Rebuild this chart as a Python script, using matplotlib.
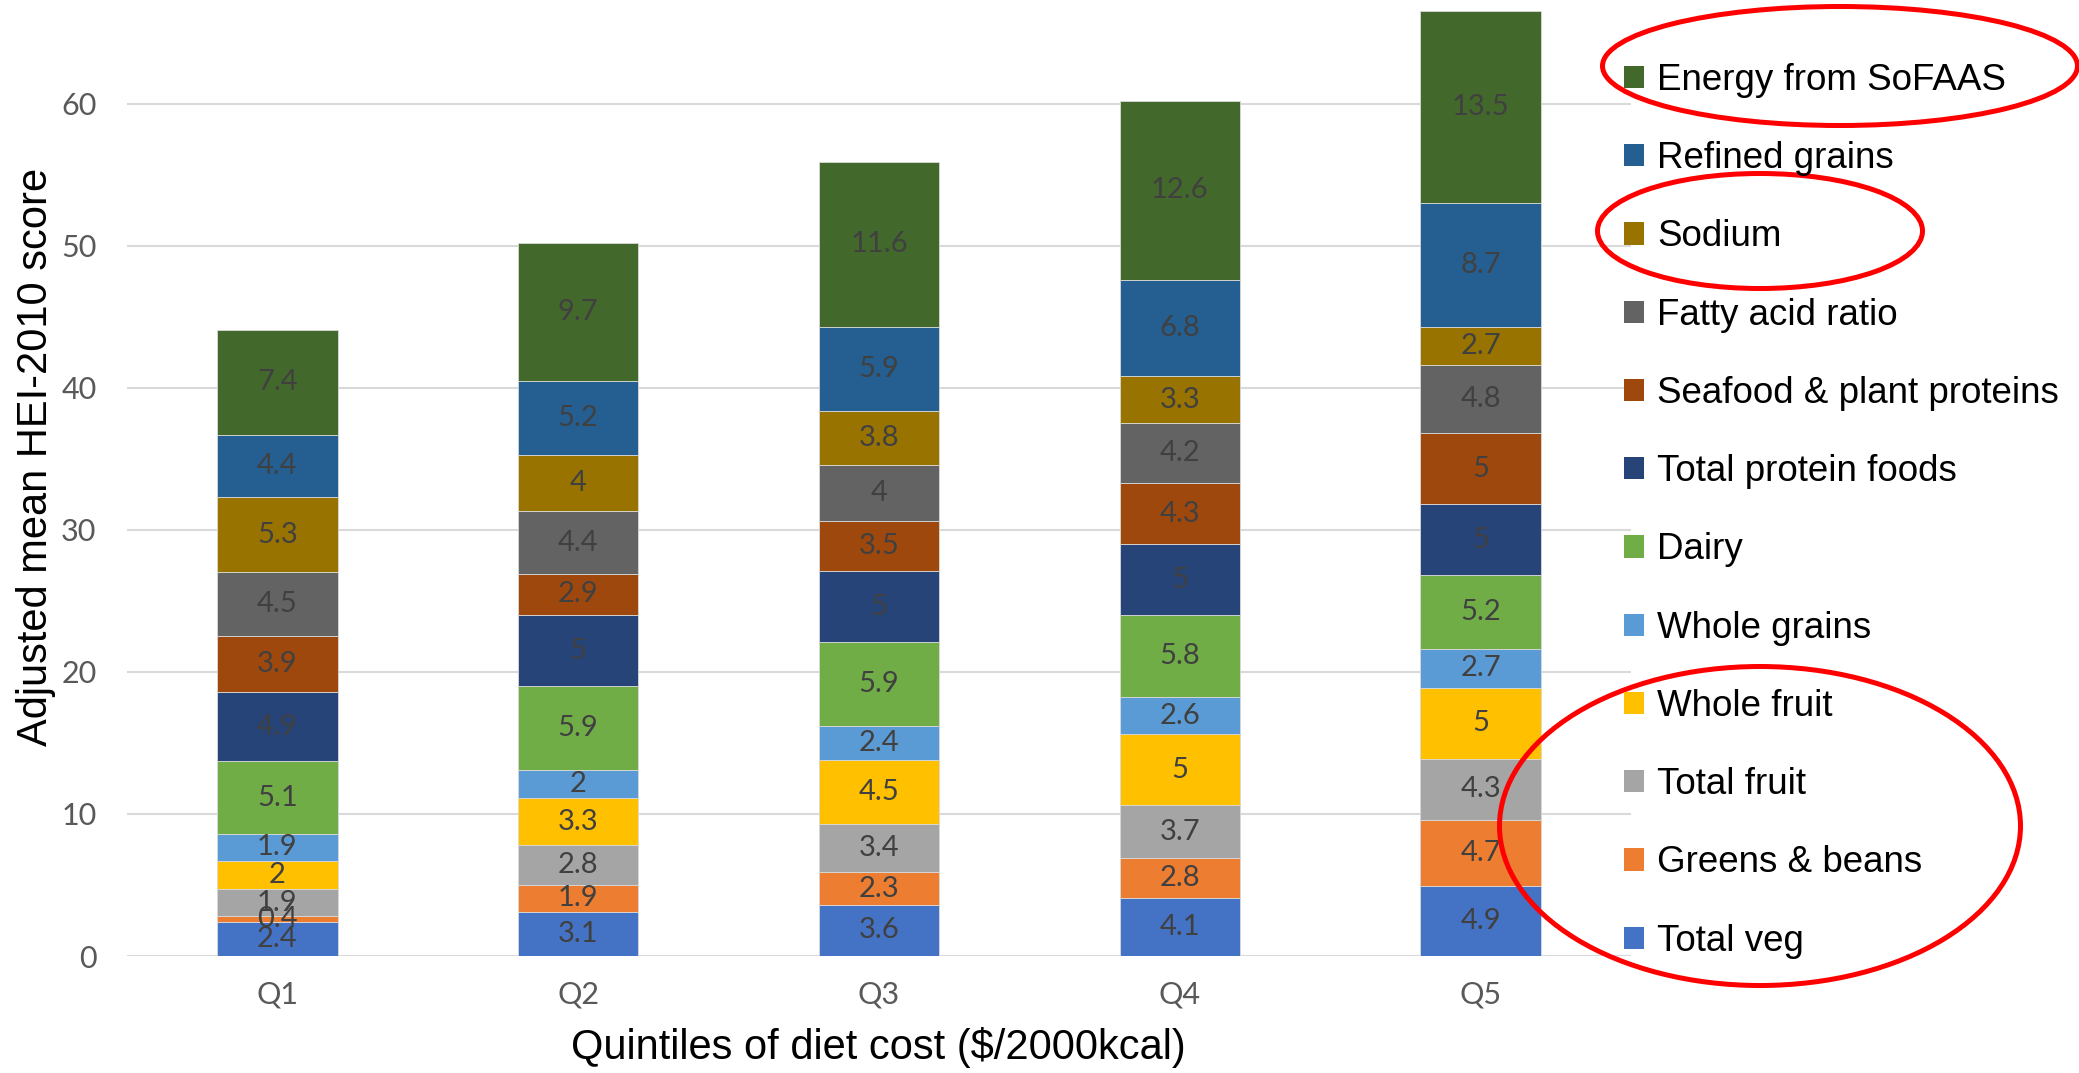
import numpy as np
from matplotlib import pyplot as plt
from matplotlib.patches import Patch, Ellipse

quintiles = ['Q1', 'Q2', 'Q3', 'Q4', 'Q5']

# components, bottom of the stack first
components = ['Total veg', 'Greens & beans', 'Total fruit', 'Whole fruit',
              'Whole grains', 'Dairy', 'Total protein foods',
              'Seafood & plant proteins', 'Fatty acid ratio', 'Sodium',
              'Refined grains', 'Energy from SoFAAS']

total_veg      = [2.4, 3.1, 3.6, 4.1, 4.9]
greens_beans   = [0.4, 1.9, 2.3, 2.8, 4.7]
total_fruit    = [1.9, 2.8, 3.4, 3.7, 4.3]
whole_fruit    = [2.0, 3.3, 4.5, 5.0, 5.0]
whole_grains   = [1.9, 2.0, 2.4, 2.6, 2.7]
dairy          = [5.1, 5.9, 5.9, 5.8, 5.2]
protein_foods  = [4.9, 5.0, 5.0, 5.0, 5.0]
seafood_plant  = [3.9, 2.9, 3.5, 4.3, 5.0]
fatty_acid     = [4.5, 4.4, 4.0, 4.2, 4.8]
sodium         = [5.3, 4.0, 3.8, 3.3, 2.7]
refined_grains = [4.4, 5.2, 5.9, 6.8, 8.7]
energy_sofaas  = [7.4, 9.7, 11.6, 12.6, 13.5]

series = [total_veg, greens_beans, total_fruit, whole_fruit, whole_grains,
          dairy, protein_foods, seafood_plant, fatty_acid, sodium,
          refined_grains, energy_sofaas]

colors = ['#4472C4', '#ED7D31', '#A5A5A5', '#FFC000', '#5B9BD5', '#70AD47',
          '#264478', '#9E480E', '#636363', '#997300', '#255E91', '#43682B']

W, H = 2079, 1073
fig = plt.figure(figsize=(W/100, H/100), dpi=100)
ax = fig.add_axes([127/W, (H-956)/H, (1631-127)/W, 956/H])

x = np.arange(len(quintiles))
bottom = np.zeros(len(quintiles))
for vals, c, name in zip(series, colors, components):
    vals = np.array(vals)
    ax.bar(x, vals, 0.4, bottom=bottom, color=c, edgecolor='#d9d9d9',
           linewidth=0.6, label=name, zorder=2)
    for xi, b, v in zip(x, bottom, vals):
        ax.text(xi, b + v/2, f'{v:g}', ha='center', va='center',
                fontsize=21, color='#404040', family='Lato', zorder=3)
    bottom += vals

ax.set_xlim(-0.5, 4.5)
ax.set_ylim(0, 67.3)
ax.set_yticks(range(0, 61, 10))
ax.yaxis.grid(True, color='#d9d9d9', linewidth=1.5, zorder=0)
ax.set_axisbelow(True)
for s in ax.spines.values():
    s.set_visible(False)
ax.tick_params(length=0, labelsize=22, labelcolor='#595959')
ax.tick_params(axis='y', pad=22)
ax.tick_params(axis='x', pad=18)
ax.set_xticks(x)
ax.set_xticklabels(quintiles)
for lab in ax.get_xticklabels() + ax.get_yticklabels():
    lab.set_family('Lato')

fig.text(36/W, 1 - 457/H, 'Adjusted mean HEI-2010 score', rotation=90,
         ha='center', va='center', fontsize=30, family='Liberation Sans')
fig.text(878/W, 1 - 1048/H, 'Quintiles of diet cost ($/2000kcal)',
         ha='center', va='center', fontsize=30, family='Liberation Sans')

handles = [Patch(facecolor=c, label=n) for c, n in zip(colors, components)][::-1]
fig.legend(handles=handles, loc='upper left',
           bbox_to_anchor=(1624/W, 1 - 63/H), frameon=False,
           prop={'family': 'Liberation Sans', 'size': 26.5},
           handlelength=0.55, handleheight=0.55, handletextpad=0.35,
           labelspacing=1.175, borderpad=0, borderaxespad=0)

# red ellipses drawn over the legend
for cx, cy, w, h in [(1840, 66, 475, 119), (1760, 231, 325, 115),
                     (1760, 826, 521, 319)]:
    fig.add_artist(Ellipse((cx, H - cy), w, h, transform=None, fill=False,
                           edgecolor='red', linewidth=3.6))

fig.savefig('out.png', dpi=100)
